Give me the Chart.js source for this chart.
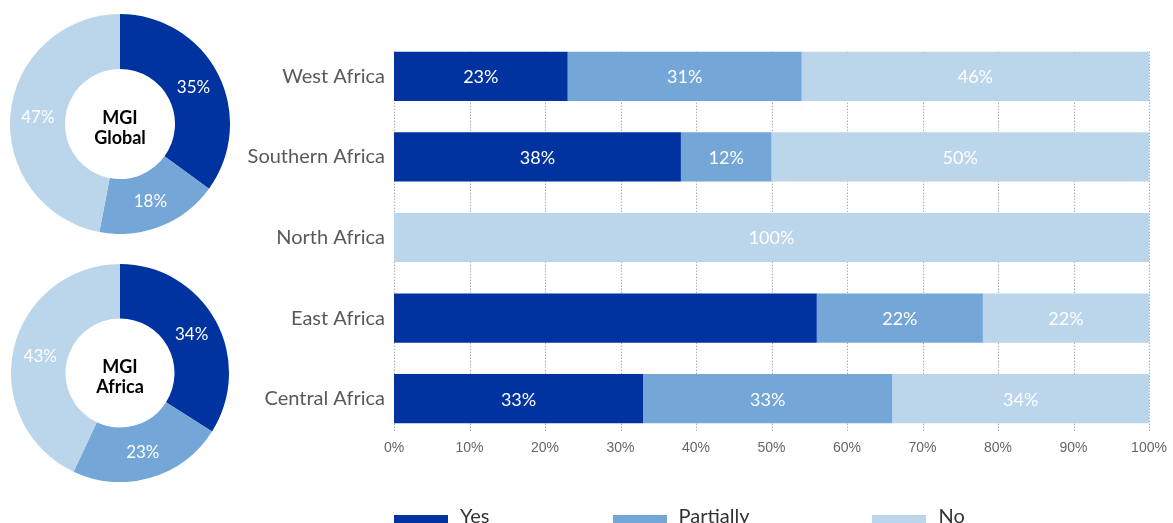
<!DOCTYPE html>
<html><head><meta charset="utf-8">
<script src="https://cdn.jsdelivr.net/npm/chart.js@4"></script>
<style>
html,body{margin:0;padding:0;width:1173px;height:523px;overflow:hidden;background:#fff;}
#c1{position:absolute;left:10px;top:14px;}
#c2{position:absolute;left:11px;top:264px;}
#c3{position:absolute;left:240px;top:0;}
#legend{position:absolute;left:394px;top:503px;display:flex;font-family:Lato,sans-serif;font-size:20px;color:#333;line-height:24px;white-space:nowrap;}
.item{display:flex;align-items:flex-start;margin-right:123px;}
.sw{width:54px;height:14px;margin-top:12px;margin-right:12px;}
</style></head>
<body>
<canvas id="c1" width="220" height="220"></canvas>
<canvas id="c2" width="218" height="218"></canvas>
<canvas id="c3" width="933" height="523"></canvas>
<div id="legend"></div>
<script>
// ---- data ----
const seriesNames = ['Yes', 'Partially', 'No'];
const seriesColors = ['#0033A0', '#74A6D7', '#BBD5EB'];
const categories = ['West Africa', 'Southern Africa', 'North Africa', 'East Africa', 'Central Africa'];
const yesValues = [23, 38, 0, 56, 33];
const partialValues = [31, 12, 0, 22, 33];
const noValues = [46, 50, 100, 22, 34];
const yesLabels = ['23%', '38%', '', '', '33%'];
const partialLabels = ['31%', '12%', '', '22%', '33%'];
const noLabels = ['46%', '50%', '100%', '22%', '34%'];
const xTickValues = [0, 10, 20, 30, 40, 50, 60, 70, 80, 90, 100];
const globalValues = [35, 18, 47];
const africaValues = [34, 23, 43];
const globalTitle = ['MGI', 'Global'];
const africaTitle = ['MGI', 'Africa'];

const LABEL_FONT = 'Lato, "Open Sans", sans-serif';

// ---- donuts ----
function donutPlugin(title) {
  return {
    id: 'donutText',
    afterDatasetsDraw(chart) {
      const ctx = chart.ctx;
      const meta = chart.getDatasetMeta(0);
      ctx.save();
      ctx.textAlign = 'center';
      ctx.textBaseline = 'middle';
      ctx.fillStyle = '#ffffff';
      ctx.font = '17px ' + LABEL_FONT;
      meta.data.forEach((arc, i) => {
        const p = arc.tooltipPosition();
        ctx.fillText(chart.data.datasets[0].data[i] + '%', p.x, p.y + 1);
      });
      const cx = meta.data[0].x, cy = meta.data[0].y;
      ctx.fillStyle = '#000000';
      ctx.font = 'bold 18px ' + LABEL_FONT;
      ctx.fillText(title[0], cx, cy - 6);
      ctx.fillText(title[1], cx, cy + 14);
      ctx.restore();
    }
  };
}
function makeDonut(id, values, title) {
  new Chart(document.getElementById(id), {
    type: 'doughnut',
    data: { labels: seriesNames, datasets: [{ data: values, backgroundColor: seriesColors, borderWidth: 0 }] },
    options: {
      responsive: false, animation: false, cutout: '50%',
      plugins: { legend: { display: false }, tooltip: { enabled: false } },
      layout: { padding: 0 }
    },
    plugins: [donutPlugin(title)]
  });
}
makeDonut('c1', globalValues, globalTitle);
makeDonut('c2', africaValues, africaTitle);

// ---- bar chart ----
const segLabels = [yesLabels, partialLabels, noLabels];
const gridPlugin = {
  id: 'dottedGrid',
  beforeDatasetsDraw(chart) {
    const ctx = chart.ctx;
    const xs = chart.scales.x;
    const m0 = chart.getDatasetMeta(0).data;
    const first = m0[0], last = m0[m0.length - 1];
    const top = first.y - first.height / 2;
    const bottom = last.y + last.height / 2 + 8;
    ctx.save();
    ctx.strokeStyle = '#8a8a8a';
    ctx.lineWidth = 1;
    ctx.setLineDash([1, 2]);
    xTickValues.forEach(v => {
      const x = Math.round(xs.getPixelForValue(v)) + 0.5;
      ctx.beginPath();
      ctx.moveTo(x, top);
      ctx.lineTo(x, bottom);
      ctx.stroke();
    });
    ctx.restore();
  }
};
const labelPlugin = {
  id: 'segLabels',
  afterDatasetsDraw(chart) {
    const ctx = chart.ctx;
    ctx.save();
    ctx.textAlign = 'center';
    ctx.textBaseline = 'middle';
    ctx.fillStyle = '#ffffff';
    ctx.font = '18px ' + LABEL_FONT;
    chart.data.datasets.forEach((ds, di) => {
      chart.getDatasetMeta(di).data.forEach((el, i) => {
        const t = segLabels[di][i];
        if (!t) return;
        ctx.fillText(t, (el.x + el.base) / 2, el.y + 1);
      });
    });
    ctx.restore();
  }
};
new Chart(document.getElementById('c3'), {
  type: 'bar',
  data: {
    labels: categories,
    datasets: [
      { label: seriesNames[0], data: yesValues, backgroundColor: seriesColors[0] },
      { label: seriesNames[1], data: partialValues, backgroundColor: seriesColors[1] },
      { label: seriesNames[2], data: noValues, backgroundColor: seriesColors[2] }
    ]
  },
  options: {
    indexAxis: 'y', responsive: false, animation: false,
    layout: { padding: { top: 36, right: 24, left: 0, bottom: 0 } },
    datasets: { bar: { categoryPercentage: 1, barPercentage: 0.61, borderWidth: 0 } },
    plugins: { legend: { display: false }, tooltip: { enabled: false } },
    scales: {
      x: {
        stacked: true, min: 0, max: 100,
        afterBuildTicks: s => { s.ticks = xTickValues.map(v => ({ value: v })); },
        ticks: { callback: v => v + '%', color: '#666', font: { family: '"Liberation Sans", Arial, sans-serif', size: 14 }, padding: 1, maxRotation: 0 },
        grid: { display: false, drawTicks: false }, border: { display: false },
        afterFit: s => { s.height = 84; }
      },
      y: {
        stacked: true,
        ticks: { color: '#595959', font: { family: LABEL_FONT, size: 20 }, padding: 9 },
        grid: { display: false, drawTicks: false }, border: { display: false },
        afterFit: s => { s.width = 154; }
      }
    }
  },
  plugins: [gridPlugin, labelPlugin]
});

// ---- legend ----
const lg = document.getElementById('legend');
seriesNames.forEach((n, i) => {
  const it = document.createElement('div'); it.className = 'item';
  const sw = document.createElement('div'); sw.className = 'sw'; sw.style.background = seriesColors[i];
  const tx = document.createElement('span'); tx.textContent = n;
  it.appendChild(sw); it.appendChild(tx); lg.appendChild(it);
});
</script>
</body></html>
